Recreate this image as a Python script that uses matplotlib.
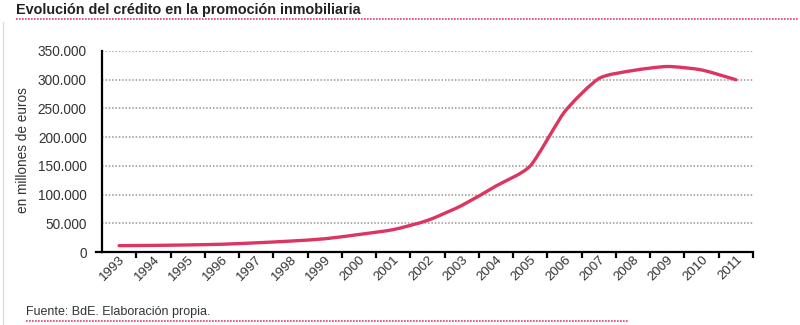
import matplotlib
matplotlib.use("Agg")
import matplotlib.pyplot as plt
from matplotlib.path import Path
from matplotlib.patches import PathPatch
from matplotlib.lines import Line2D

plt.rcParams['font.family'] = ['Liberation Sans', 'DejaVu Sans']

# Crédito a la promoción inmobiliaria (millones de euros)
years = ['1993', '1994', '1995', '1996', '1997', '1998', '1999', '2000', '2001', '2002',
         '2003', '2004', '2005', '2006', '2007', '2008', '2009', '2010', '2011']
credit = [11000, 11500, 12300, 13500, 16000, 19000, 23000, 30500, 39000, 55000,
          81000, 115000, 150000, 244000, 302000, 316000, 323000, 317000, 300000]
yticks = [0, 50000, 100000, 150000, 200000, 250000, 300000, 350000]

title = 'Evolución del crédito en la promoción inmobiliaria'
ylabel = 'en millones de euros'
source = 'Fuente: BdE. Elaboración propia.'

W, H = 800, 325
fig = plt.figure(figsize=(W / 100, H / 100), dpi=100)

def fx(px):
    return px / W

def fy(py):
    return 1 - py / H

ax = fig.add_axes([fx(102), fy(252), fx(753) - fx(102), fy(51) - fy(252)])

xs = list(range(len(years)))

# gently smoothed curve through the data points (Catmull-Rom as cubic Bezier segments)
verts = [(xs[0], credit[0])]
codes = [Path.MOVETO]
n = len(xs)
t = 0.11
for i in range(n - 1):
    p0 = (xs[max(i - 1, 0)], credit[max(i - 1, 0)])
    p1 = (xs[i], credit[i])
    p2 = (xs[i + 1], credit[i + 1])
    p3 = (xs[min(i + 2, n - 1)], credit[min(i + 2, n - 1)])
    c1 = (p1[0] + (p2[0] - p0[0]) * t, p1[1] + (p2[1] - p0[1]) * t)
    c2 = (p2[0] - (p3[0] - p1[0]) * t, p2[1] - (p3[1] - p1[1]) * t)
    verts += [c1, c2, p2]
    codes += [Path.CURVE4] * 3
ax.add_patch(PathPatch(Path(verts, codes), facecolor='none', edgecolor='#dd3561',
                       lw=2.4, capstyle='round', joinstyle='round', zorder=3))

ax.set_xlim(-0.5, len(years) - 0.5)
ax.set_ylim(0, 350000)

# dotted horizontal gridlines
for v in yticks[1:]:
    ax.axhline(v, color='#9c948c', lw=1.1, ls=(0, (1, 1.2)), zorder=1)

ax.set_yticks(yticks)
ax.set_yticklabels([f'{v:,}'.replace(',', '.') for v in yticks], fontsize=9.8, color='#333333')
ax.tick_params(axis='y', length=0, pad=11)

# category boundaries carry the tick marks; labels sit at the category centers
ax.set_xticks([i + 0.5 for i in xs])
ax.set_xticklabels([])
ax.tick_params(axis='x', which='major', direction='out', length=4.5, width=1.6, color='black')
ax.set_xticks(xs, minor=True)
ax.set_xticklabels(years, minor=True, rotation=45, ha='right', va='top',
                   rotation_mode='anchor', fontsize=9.6, color='#333333')
ax.tick_params(axis='x', which='minor', length=0, pad=1)

for s in ['top', 'right']:
    ax.spines[s].set_visible(False)
for s in ['left', 'bottom']:
    ax.spines[s].set_linewidth(1.6)
    ax.spines[s].set_color('black')

# short stub of the baseline left of the y axis
fig.add_artist(Line2D([fx(96), fx(102)], [fy(252), fy(252)], color='black', lw=1.6))

ax.set_ylabel(ylabel, fontsize=9.8, color='#333333')
ax.yaxis.set_label_coords((30 - 102) / (753 - 102), (252 - 150) / (252 - 51))

# title and source with dotted red rules
fig.text(fx(16), fy(10), title, fontsize=10.4, fontweight='bold', color='#222222',
         ha='left', va='center')
fig.add_artist(Line2D([fx(16), fx(798)], [fy(19), fy(19)], color='#e0406a', lw=1.2,
                      ls=(0, (1, 0.8))))
fig.text(fx(26), fy(312), source, fontsize=9, color='#333333', ha='left', va='center')
fig.add_artist(Line2D([fx(26), fx(628)], [fy(321), fy(321)], color='#e0406a', lw=1.2,
                      ls=(0, (1, 0.8))))

# faint frame line along the left edge
fig.add_artist(Line2D([fx(3), fx(3)], [fy(22), fy(325)], color='#dddddd', lw=1))

fig.savefig('out.png', dpi=100)
